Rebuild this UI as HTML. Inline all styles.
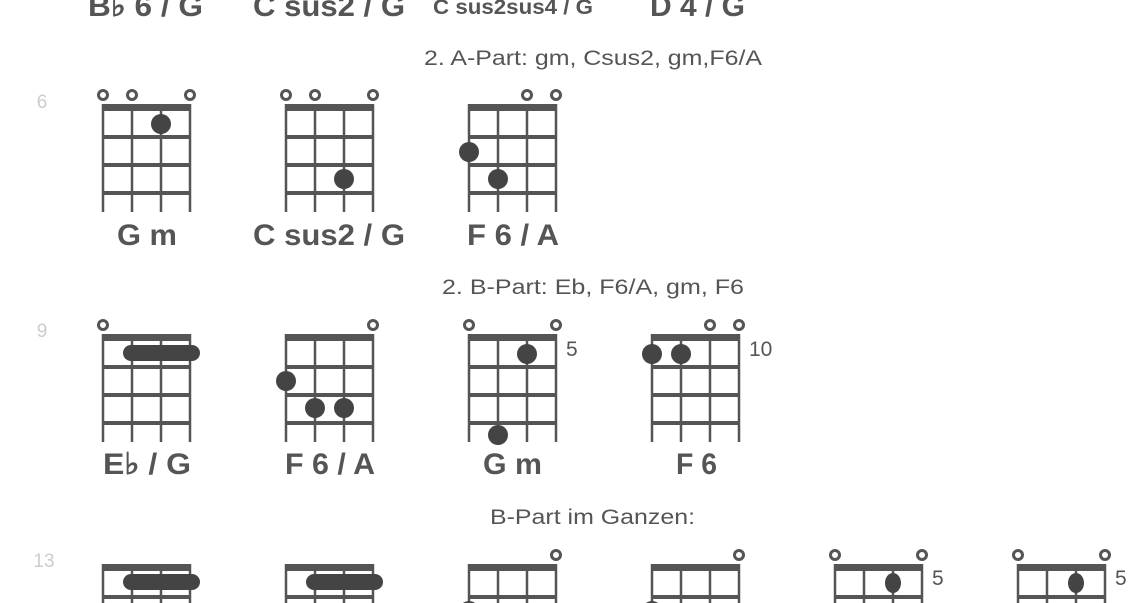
<!DOCTYPE html>
<html><head><meta charset="utf-8"><style>
html,body{margin:0;padding:0;background:#fff;overflow:hidden;width:1148px;height:603px;}
svg{display:block;}
text{font-family:"Liberation Sans",sans-serif;}
.lb{font-weight:bold;font-size:30px;fill:#555;}
.hd{font-size:21px;fill:#555;}
.num{font-size:19px;fill:#ccc;text-anchor:middle;}
.fr{font-size:21px;fill:#555;}
</style></head><body>
<svg width="1148" height="603" viewBox="0 0 1148 603" xmlns="http://www.w3.org/2000/svg">
<defs>
<g id="grid">
<rect x="-1" y="0" width="89" height="7" fill="#555"/>
<rect x="-1" y="31" width="89" height="4" fill="#555"/>
<rect x="-1" y="59" width="89" height="4" fill="#555"/>
<rect x="-1" y="87" width="89" height="4" fill="#555"/>
<g stroke="#555" stroke-width="2.5"><line x1="0" y1="0" x2="0" y2="108"/><line x1="29" y1="0" x2="29" y2="108"/><line x1="58" y1="0" x2="58" y2="108"/><line x1="87" y1="0" x2="87" y2="108"/></g>
</g>
<circle id="o" r="4.5" fill="none" stroke="#555" stroke-width="3"/>
<circle id="d" r="10" fill="#444"/>
<rect id="barre" x="20" y="-8" width="77" height="16" rx="8" fill="#444"/>
<ellipse id="e" rx="8" ry="10" fill="#444"/>
</defs>
<text x="88" y="16" class="lb" textLength="115" lengthAdjust="spacingAndGlyphs">B♭ 6 / G</text>
<text x="253" y="16" class="lb" textLength="152" lengthAdjust="spacingAndGlyphs">C sus2 / G</text>
<text x="433" y="14" class="lb" style="font-size:21px" textLength="160" lengthAdjust="spacingAndGlyphs">C sus2sus4 / G</text>
<text x="650" y="16" class="lb" textLength="95" lengthAdjust="spacingAndGlyphs">D 4 / G</text>
<text x="424" y="65" class="hd" textLength="338" lengthAdjust="spacingAndGlyphs">2. A-Part: gm, Csus2, gm,F6/A</text>
<text x="42" y="108" class="num">6</text>
<g transform="translate(103,104)"><use href="#grid"/><use href="#o" x="0" y="-9"/><use href="#o" x="29" y="-9"/><use href="#o" x="87" y="-9"/><use href="#d" x="58" y="20"/></g>
<g transform="translate(286,104)"><use href="#grid"/><use href="#o" x="0" y="-9"/><use href="#o" x="29" y="-9"/><use href="#o" x="87" y="-9"/><use href="#d" x="58" y="75"/></g>
<g transform="translate(469,104)"><use href="#grid"/><use href="#o" x="58" y="-9"/><use href="#o" x="87" y="-9"/><use href="#d" x="0" y="48"/><use href="#d" x="29" y="75"/></g>
<text x="117" y="245" class="lb" textLength="60" lengthAdjust="spacingAndGlyphs">G m</text>
<text x="253" y="245" class="lb" textLength="152" lengthAdjust="spacingAndGlyphs">C sus2 / G</text>
<text x="467" y="245" class="lb" textLength="92" lengthAdjust="spacingAndGlyphs">F 6 / A</text>
<text x="442" y="294" class="hd" textLength="302" lengthAdjust="spacingAndGlyphs">2. B-Part: Eb, F6/A, gm, F6</text>
<text x="42" y="337" class="num">9</text>
<g transform="translate(103,334)"><use href="#grid"/><use href="#o" x="0" y="-9"/><use href="#barre" y="19"/></g>
<g transform="translate(286,334)"><use href="#grid"/><use href="#o" x="87" y="-9"/><use href="#d" x="0" y="47"/><use href="#d" x="29" y="74"/><use href="#d" x="58" y="74"/></g>
<g transform="translate(469,334)"><use href="#grid"/><use href="#o" x="0" y="-9"/><use href="#o" x="87" y="-9"/><use href="#d" x="58" y="20"/><use href="#d" x="29" y="101"/><text x="97" y="22" class="fr">5</text></g>
<g transform="translate(652,334)"><use href="#grid"/><use href="#o" x="58" y="-9"/><use href="#o" x="87" y="-9"/><use href="#d" x="0" y="20"/><use href="#d" x="29" y="20"/><text x="97" y="22" class="fr">10</text></g>
<text x="103" y="474" class="lb" textLength="88" lengthAdjust="spacingAndGlyphs">E♭ / G</text>
<text x="285" y="474" class="lb" textLength="90" lengthAdjust="spacingAndGlyphs">F 6 / A</text>
<text x="483" y="474" class="lb" textLength="59" lengthAdjust="spacingAndGlyphs">G m</text>
<text x="676" y="474" class="lb" textLength="41" lengthAdjust="spacingAndGlyphs">F 6</text>
<text x="490" y="524" class="hd" textLength="205" lengthAdjust="spacingAndGlyphs">B-Part im Ganzen:</text>
<text x="44" y="567" class="num">13</text>
<g transform="translate(103,564)"><use href="#grid"/><use href="#barre" y="18"/></g>
<g transform="translate(286,564)"><use href="#grid"/><use href="#barre" y="18"/></g>
<g transform="translate(469,564)"><use href="#grid"/><use href="#o" x="87" y="-9"/><use href="#d" x="0" y="47"/></g>
<g transform="translate(652,564)"><use href="#grid"/><use href="#o" x="87" y="-9"/><use href="#d" x="0" y="47"/></g>
<g transform="translate(835,564)"><use href="#grid"/><use href="#o" x="0" y="-9"/><use href="#o" x="87" y="-9"/><use href="#e" x="58" y="19"/><text x="97" y="21" class="fr">5</text></g>
<g transform="translate(1018,564)"><use href="#grid"/><use href="#o" x="0" y="-9"/><use href="#o" x="87" y="-9"/><use href="#e" x="58" y="19"/><text x="97" y="21" class="fr">5</text></g>
</svg>
</body></html>
